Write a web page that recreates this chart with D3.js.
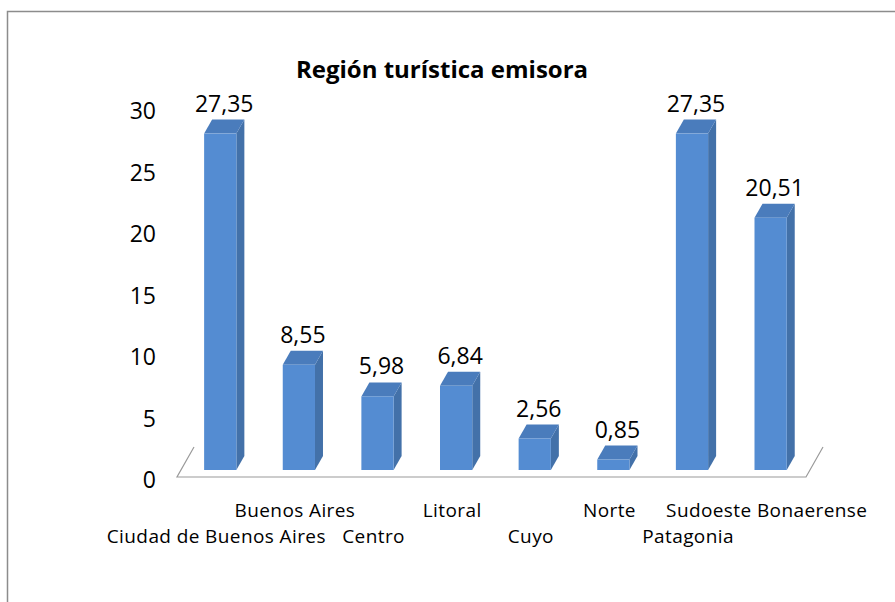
<!DOCTYPE html>
<html lang="es">
<head>
<meta charset="utf-8">
<script src="https://d3js.org/d3.v7.min.js"></script>
<style>
body { margin: 0; background: #fff; }
text { font-family: "Open Sans", Lato, sans-serif; fill: #000; }
.title { font-size: 24px; font-weight: bold; text-anchor: middle; }
.tick-label { font-size: 23px; text-anchor: end; }
.value { font-size: 23px; text-anchor: middle; }
.cat { font-size: 19px; letter-spacing: 0.4px; text-anchor: middle; }
</style>
</head>
<body>
<svg width="895" height="602"></svg>
<script>

var categories = ["Ciudad de Buenos Aires", "Buenos Aires", "Centro", "Litoral",
                  "Cuyo", "Norte", "Patagonia", "Sudoeste Bonaerense"];
var values = [27.35, 8.55, 5.98, 6.84, 2.56, 0.85, 27.35, 20.51];
var valueLabels = ["27,35", "8,55", "5,98", "6,84", "2,56", "0,85", "27,35", "20,51"];
var yTicks = [0, 5, 10, 15, 20, 25, 30];

var svg = d3.select("svg");

// chart frame
svg.append("rect")
    .attr("x", 7.5).attr("y", 11.5)
    .attr("width", 900).attr("height", 600)
    .attr("fill", "none")
    .attr("stroke", "#8c8c8c")
    .attr("stroke-width", 1.5);

svg.append("text")
    .attr("class", "title")
    .attr("x", 442).attr("y", 78)
    .text("Región turística emisora");

var x = d3.scaleBand()
    .domain(categories)
    .range([177, 806]);

var y = d3.scaleLinear()
    .domain([0, 30])
    .range([470, 101]);

var bw = x.bandwidth(),
    barOff = bw * 0.345,
    barW = bw * 0.41,
    dx = 8, dy = 14;

// floor
var fdx = 17, fdy = 30, floorY = 477;
svg.append("path")
    .attr("d", "M" + (x.range()[0] + fdx) + "," + (floorY - fdy) +
               "L" + x.range()[0] + "," + floorY +
               "L" + x.range()[1] + "," + floorY +
               "L" + (x.range()[1] + fdx) + "," + (floorY - fdy))
    .attr("fill", "none")
    .attr("stroke", "#9a9a9a")
    .attr("stroke-width", 1.2);

// y axis labels
svg.selectAll(".tick-label")
    .data(yTicks)
    .enter().append("text")
    .attr("class", "tick-label")
    .attr("x", 156)
    .attr("y", function(d) { return y(d) + 10; })
    .attr("dy", "0.35em")
    .text(function(d) { return d; });

var data = categories.map(function(c, i) {
  return { cat: c, value: values[i], label: valueLabels[i], i: i };
});

var bar = svg.selectAll(".bar")
    .data(data)
    .enter().append("g")
    .attr("class", "bar");

// side face
bar.append("path")
    .attr("fill", "#4371a9")
    .attr("d", function(d) {
      var x1 = x(d.cat) + barOff + barW, t = y(d.value), b = y(0);
      return "M" + x1 + "," + t + "L" + (x1 + dx) + "," + (t - dy) +
             "L" + (x1 + dx) + "," + (b - dy) + "L" + x1 + "," + b + "Z";
    });

// top face
bar.append("path")
    .attr("fill", "#4a7cbc")
    .attr("d", function(d) {
      var x0 = x(d.cat) + barOff, t = y(d.value);
      return "M" + x0 + "," + t + "L" + (x0 + dx) + "," + (t - dy) +
             "L" + (x0 + barW + dx) + "," + (t - dy) + "L" + (x0 + barW) + "," + t + "Z";
    });

// front face
bar.append("rect")
    .attr("fill", "#548cd2")
    .attr("x", function(d) { return x(d.cat) + barOff; })
    .attr("y", function(d) { return y(d.value); })
    .attr("width", barW)
    .attr("height", function(d) { return y(0) - y(d.value); });

bar.append("text")
    .attr("class", "value")
    .attr("x", function(d) { return x(d.cat) + barOff + barW / 2 + dx / 2; })
    .attr("y", function(d) { return y(d.value) - 22; })
    .text(function(d) { return d.label; });

// category labels, staggered on two rows
bar.append("text")
    .attr("class", "cat")
    .attr("x", function(d) { return x(d.cat) + bw / 2; })
    .attr("y", function(d) { return d.i % 2 ? 517 : 543; })
    .text(function(d) { return d.cat; });

</script>
</body>
</html>
